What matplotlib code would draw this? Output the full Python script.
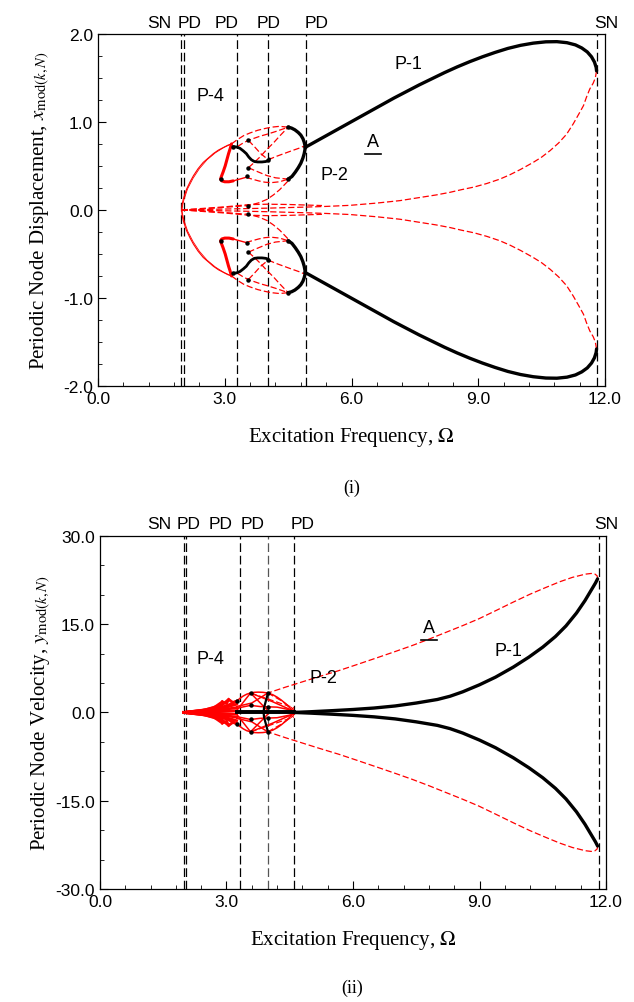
import numpy as np
import matplotlib
matplotlib.use("Agg")
import matplotlib.pyplot as plt

plt.rcParams['font.family'] = ['Liberation Sans', 'DejaVu Sans']
plt.rcParams['mathtext.fontset'] = 'stix'

# ---------------- (i) displacement, upper half (lower half is mirror) -------------
bif_x_i = [1.96, 2.04, 3.28, 4.02, 4.92, 11.82]
bif_lab_i = ["SN", "PD", "PD", "PD", "PD", "SN"]

# stable P-1 (black)
p1_om_i = [4.90, 5.2, 5.5, 5.8, 6.1, 6.4, 6.7, 7.0, 7.3, 7.6, 7.9, 8.2, 8.5, 8.8, 9.1, 9.4,
           9.7, 10.0, 10.3, 10.6, 10.86, 11.1, 11.3, 11.45, 11.58, 11.68, 11.75, 11.79, 11.80]
p1_x_i = [0.71, 0.79, 0.87, 0.95, 1.03, 1.11, 1.19, 1.27, 1.345, 1.42, 1.49, 1.56, 1.625, 1.685,
          1.74, 1.79, 1.835, 1.87, 1.895, 1.91, 1.912, 1.90, 1.875, 1.84, 1.795, 1.74, 1.68,
          1.62, 1.58]
# unstable P-1 (red dashed)
u1_om_i = [11.80, 11.77, 11.72, 11.64, 11.56, 11.49, 11.38, 11.25, 11.09, 10.9, 10.7, 10.5, 10.3,
           10.0, 9.75, 9.51, 9.2, 8.9, 8.6, 8.33, 8.0, 7.6, 7.15, 6.6, 5.96, 5.4, 4.9, 4.0, 3.0, 1.98]
u1_x_i = [1.58, 1.50, 1.44, 1.375, 1.28, 1.185, 1.09, 0.98, 0.86, 0.76, 0.674, 0.60, 0.54,
          0.46, 0.40, 0.35, 0.30, 0.26, 0.23, 0.20, 0.17, 0.14, 0.106, 0.078, 0.052, 0.04, 0.032,
          0.02, 0.01, 0.0]
# P-2 stable arc (black)
p2_om_i = [4.50, 4.58, 4.66, 4.74, 4.80, 4.85, 4.88, 4.90, 4.90, 4.88, 4.85, 4.80, 4.74, 4.67,
           4.59, 4.50]
p2_x_i = [0.94, 0.93, 0.91, 0.88, 0.85, 0.81, 0.77, 0.73, 0.69, 0.64, 0.59, 0.53, 0.48, 0.43,
          0.38, 0.35]
# P-4 stable S (black)
p4_om_i = [3.20, 3.28, 3.36, 3.44, 3.51, 3.57, 3.63, 3.70, 3.78, 3.88, 3.97, 4.03, 4.06]
p4_x_i = [0.72, 0.715, 0.70, 0.67, 0.64, 0.60, 0.57, 0.55, 0.545, 0.545, 0.55, 0.56, 0.58]
# large red solid arc
arc_om_i = [1.98, 1.99, 2.02, 2.06, 2.10, 2.18, 2.26, 2.37, 2.49, 2.61, 2.73, 2.85, 2.97, 3.07, 3.16]
arc_x_i = [0.0, 0.06, 0.125, 0.185, 0.24, 0.32, 0.39, 0.47, 0.54, 0.59, 0.64, 0.68, 0.71, 0.735, 0.75]
arc2_om_i = [1.98, 2.03, 2.12, 2.25, 2.40, 2.58, 2.78, 2.98, 3.16]
arc2_x_i = [0.0, 0.11, 0.24, 0.36, 0.47, 0.57, 0.65, 0.71, 0.75]
# thick red S loop
rs_om_i = [3.16, 3.13, 3.09, 3.05, 3.01, 2.96, 2.92, 2.90, 2.93, 3.00, 3.10, 3.20]
rs_x_i = [0.75, 0.70, 0.64, 0.57, 0.50, 0.43, 0.38, 0.35, 0.33, 0.32, 0.32, 0.33]
rt_om_i = [3.20, 3.35, 3.50]
rt_x_i = [0.33, 0.35, 0.37]
# red dashed branches
d1_om = [3.16, 3.30, 3.45, 3.60, 3.78, 3.95, 4.10, 4.30, 4.50]
d1_x = [0.75, 0.80, 0.845, 0.875, 0.905, 0.925, 0.94, 0.95, 0.94]
d2_om = [3.30, 3.45, 3.56, 3.70, 3.85, 4.00, 4.20, 4.50]
d2_x = [0.72, 0.765, 0.79, 0.815, 0.84, 0.86, 0.89, 0.94]
d3_om = [3.56, 3.70, 3.85, 4.03]
d3_x = [0.79, 0.72, 0.64, 0.57]
d4_om = [4.03, 4.20, 4.40, 4.60, 4.75, 4.90]
d4_x = [0.57, 0.605, 0.64, 0.675, 0.70, 0.73]
d5_om = [3.56, 3.70, 3.85, 4.00, 4.15, 4.30, 4.50]
d5_x = [0.48, 0.54, 0.61, 0.69, 0.76, 0.84, 0.94]
d6_om = [3.50, 3.65, 3.80, 3.95, 4.10, 4.30, 4.50]
d6_x = [0.37, 0.35, 0.33, 0.315, 0.31, 0.32, 0.35]
d7_om = [3.56, 3.70, 3.85, 4.00, 4.20, 4.50]
d7_x = [0.48, 0.45, 0.42, 0.39, 0.365, 0.35]
d8_om = [1.98, 2.5, 3.0, 3.56, 3.80, 4.00, 4.15, 4.30, 4.50]
d8_x = [0.0, 0.012, 0.03, 0.05, 0.08, 0.12, 0.17, 0.23, 0.33]
d9_om = [1.98, 2.5, 3.0, 3.56, 4.0, 4.5, 5.3]
d9_x = [0.0, 0.018, 0.035, 0.06, 0.065, 0.062, 0.05]
dots_om_i = [3.56, 3.56, 3.53, 4.03, 4.50, 4.50, 3.56, 2.90, 3.20]
dots_x_i = [0.80, 0.48, 0.38, 0.57, 0.94, 0.35, 0.05, 0.35, 0.72]

# ---------------- (ii) velocity, upper half -------------------------------------
bif_x_ii = [1.99, 2.04, 3.31, 3.98, 4.60, 11.83]
bif_lab_ii = ["SN", "PD", "PD", "PD", "PD", "SN"]

p1_om_ii = [4.6, 5.0, 5.5, 6.0, 6.5, 7.0, 7.5, 8.0, 8.3, 8.6, 9.0, 9.38, 9.8, 10.17, 10.5,
            10.8, 11.05, 11.3, 11.5, 11.65, 11.75, 11.80]
p1_y_ii = [0.0, 0.12, 0.3, 0.5, 0.75, 1.1, 1.6, 2.2, 2.75, 3.5, 4.7, 6.0, 7.7, 9.4, 11.1,
           12.9, 14.7, 16.9, 19.0, 20.8, 22.0, 22.7]
u1_om_ii = [11.80, 11.79, 11.74, 11.65, 11.51, 11.2, 10.9, 10.56, 10.2, 9.8, 9.4, 8.98, 8.6,
            8.2, 7.8, 7.4, 7.0, 6.61, 6.1, 5.66, 5.2, 4.8, 4.4, 3.98]
u1_y_ii = [22.7, 23.2, 23.5, 23.62, 23.5, 22.95, 22.2, 21.2, 20.1, 18.75, 17.35, 15.9, 14.75,
           13.6, 12.45, 11.36, 10.35, 9.39, 8.15, 7.1, 6.1, 5.2, 4.3, 3.3]
# black horizontal P-2 / P-4 segment and bracket
hb_om_ii = [3.24, 3.6, 4.0, 4.6]
hb_y_ii = [0.0, 0.0, 0.0, 0.0]
br_om_ii = [3.98, 3.95, 3.92, 3.89, 3.88]
br_y_ii = [3.2, 2.4, 1.6, 0.8, 0.0]
# red P-4 spindle (thick)
sp1_om = [1.99, 2.4, 2.7, 2.9]
sp1_y = [0.0, 0.3, 0.8, 1.8]
sp2_om = [1.99, 2.5, 2.9, 3.05]
sp2_y = [0.0, 0.45, 1.3, 2.2]
sp3_om = [1.99, 2.6, 3.0, 3.24]
sp3_y = [0.0, 0.5, 1.1, 1.9]
sp4_om = [1.99, 2.7, 3.24]
sp4_y = [0.0, 0.3, 0.8]
sp5_om = [2.9, 3.0, 3.05, 3.15, 3.24]
sp5_y = [1.8, 1.5, 2.2, 1.7, 1.9]
sp6_om = [1.99, 2.6, 3.0, 3.24]
sp6_y = [0.0, 0.35, 0.9, 1.4]
sp7_om = [1.99, 2.8, 3.24]
sp7_y = [0.0, 0.15, 0.3]
# red mesh (thin solid)
m1_om = [3.24, 3.32, 3.40, 3.48, 3.57, 3.66, 3.75, 3.86, 3.98, 4.10, 4.2, 4.3, 4.4, 4.5, 4.6]
m1_y = [1.9, 2.4, 2.8, 3.1, 3.3, 3.42, 3.45, 3.42, 3.3, 3.0, 2.6, 2.1, 1.5, 0.8, 0.0]
m2_om = [3.24, 3.57, 3.98]
m2_y = [0.3, 3.3, 0.3]
m3_om = [3.57, 4.1, 4.6]
m3_y = [3.3, 1.8, 0.2]
m4_om = [3.24, 3.6, 3.98]
m4_y = [1.0, 1.6, 3.3]
m5_om = [3.3, 3.57, 3.8, 4.2, 4.6]
m5_y = [0.8, 1.2, 1.0, 0.9, 0.3]
# red dashed inside mesh
dm1_om = [3.98, 4.3, 4.6]
dm1_y = [3.3, 2.0, 0.5]
dm2_om = [3.57, 3.9, 4.3, 4.6]
dm2_y = [3.3, 2.5, 1.5, 0.8]
dots_om_ii = [3.57, 3.98, 3.57, 3.24, 3.98]
dots_y_ii = [3.3, 3.3, 1.2, 1.9, 1.0]


def both(ax, om, val, **kw):
    ax.plot(om, val, **kw)
    ax.plot(om, np.negative(val), **kw)


red_dash = dict(color='red', lw=0.9, dashes=(5, 2.2))
red_thin = dict(color='red', lw=0.8)

fig = plt.figure(figsize=(6.34, 10.03), dpi=100)
ax1 = fig.add_axes([0.1546, 0.6142, 0.7997, 0.351])
ax2 = fig.add_axes([0.1577, 0.1127, 0.7982, 0.352])

# ---- panel (i)
for xv in bif_x_i:
    ax1.axvline(xv, color='black', lw=0.9, dashes=(7, 3), zorder=1)
for d_om, d_x in [(u1_om_i, u1_x_i), (d1_om, d1_x), (d2_om, d2_x), (d3_om, d3_x),
                  (d4_om, d4_x), (d5_om, d5_x), (d6_om, d6_x), (d7_om, d7_x),
                  (d8_om, d8_x), (d9_om, d9_x)]:
    both(ax1, d_om, d_x, **red_dash)
both(ax1, arc_om_i, arc_x_i, **red_thin)
both(ax1, arc2_om_i, arc2_x_i, color='red', lw=0.6)
both(ax1, rs_om_i, rs_x_i, color='red', lw=2.2, solid_capstyle='round')
both(ax1, rt_om_i, rt_x_i, color='red', lw=1.0)
both(ax1, p1_om_i, p1_x_i, color='black', lw=2.4, solid_capstyle='round')
both(ax1, p2_om_i, p2_x_i, color='black', lw=2.4, solid_capstyle='round')
both(ax1, p4_om_i, p4_x_i, color='black', lw=2.0, solid_capstyle='round')
both(ax1, dots_om_i, dots_x_i, ls='none', marker='o', ms=2.2, color='black')

ax1.set_xlim(0, 12)
ax1.set_ylim(-2, 2)
ax1.set_xticks([0, 3, 6, 9, 12])
ax1.set_xticklabels(["0.0", "3.0", "6.0", "9.0", "12.0"])
ax1.set_yticks([-2, -1, 0, 1, 2])
ax1.set_yticklabels(["-2.0", "-1.0", "0.0", "1.0", "2.0"])
ax1.set_xticks(np.arange(0, 12.01, 0.6), minor=True)
ax1.set_yticks(np.arange(-2, 2.01, 0.25), minor=True)
ax1.set_xlabel(r"Excitation Frequency, $\Omega$", family='Liberation Serif', fontsize=15, labelpad=14)
ax1.set_ylabel(r"Periodic Node Displacement, $x_{\mathrm{mod}(k,N)}$", family='Liberation Serif',
               fontsize=15, labelpad=8)
ax1.text(2.65, 1.3, "P-4", fontsize=13, ha='center', va='center')
ax1.text(7.34, 1.66, "P-1", fontsize=13, ha='center', va='center')
ax1.text(5.59, 0.40, "P-2", fontsize=13, ha='center', va='center')
ax1.text(6.51, 0.78, "A", fontsize=13, ha='center', va='center')
ax1.plot([6.33, 6.69], [0.63, 0.63], color='black', lw=1.2)
lab_pos_i = [1.46, 2.18, 3.04, 4.04, 5.18, 12.04]
for xv, lab in zip(lab_pos_i, bif_lab_i):
    ax1.text(xv, 2.05, lab, fontsize=12.5, ha='center', va='bottom')
fig.text(0.555, 1 - 488 / 1003, "(i)", family='Liberation Serif', fontsize=13, ha='center', va='center')

# ---- panel (ii)
for i, xv in enumerate(bif_x_ii):
    ax2.axvline(xv, color='#555555' if i == 3 else 'black', lw=0.9, dashes=(7, 3), zorder=1)
for d_om, d_y in [(u1_om_ii, u1_y_ii), (dm1_om, dm1_y), (dm2_om, dm2_y)]:
    both(ax2, d_om, d_y, **red_dash)
for s_om, s_y in [(sp1_om, sp1_y), (sp2_om, sp2_y), (sp3_om, sp3_y), (sp4_om, sp4_y),
                  (sp5_om, sp5_y), (sp6_om, sp6_y), (sp7_om, sp7_y)]:
    both(ax2, s_om, s_y, color='red', lw=2.0)
for m_om, m_y in [(m1_om, m1_y), (m2_om, m2_y), (m3_om, m3_y), (m4_om, m4_y), (m5_om, m5_y)]:
    both(ax2, m_om, m_y, color='red', lw=1.1)
both(ax2, p1_om_ii, p1_y_ii, color='black', lw=2.4, solid_capstyle='round')
both(ax2, hb_om_ii, hb_y_ii, color='black', lw=2.6)
both(ax2, br_om_ii, br_y_ii, color='black', lw=1.6)
both(ax2, dots_om_ii, dots_y_ii, ls='none', marker='o', ms=2.2, color='black')

ax2.set_xlim(0, 12)
ax2.set_ylim(-30, 30)
ax2.set_xticks([0, 3, 6, 9, 12])
ax2.set_xticklabels(["0.0", "3.0", "6.0", "9.0", "12.0"])
ax2.set_yticks([-30, -15, 0, 15, 30])
ax2.set_yticklabels(["-30.0", "-15.0", "0.0", "15.0", "30.0"])
ax2.set_xticks(np.arange(0, 12.01, 0.6), minor=True)
ax2.set_yticks(np.arange(-30, 30.01, 5), minor=True)
ax2.set_xlabel(r"Excitation Frequency, $\Omega$", family='Liberation Serif', fontsize=15, labelpad=14)
ax2.set_ylabel(r"Periodic Node Velocity, $y_{\mathrm{mod}(k,N)}$", family='Liberation Serif',
               fontsize=15, labelpad=2)
ax2.text(2.63, 9.1, "P-4", fontsize=13, ha='center', va='center')
ax2.text(5.31, 6.0, "P-2", fontsize=13, ha='center', va='center')
ax2.text(9.69, 10.5, "P-1", fontsize=13, ha='center', va='center')
ax2.text(7.8, 14.5, "A", fontsize=13, ha='center', va='center')
ax2.plot([7.62, 7.98], [12.3, 12.3], color='black', lw=1.2)
lab_pos_ii = [1.4, 2.1, 2.86, 3.62, 4.8, 12.0]
for xv, lab in zip(lab_pos_ii, bif_lab_ii):
    ax2.text(xv, 30.8, lab, fontsize=12.5, ha='center', va='bottom')
fig.text(0.555, 1 - 988 / 1003, "(ii)", family='Liberation Serif', fontsize=13, ha='center', va='center')

for ax in (ax1, ax2):
    ax.tick_params(which='both', direction='in', top=False, right=False, labelsize=12.5)
    ax.tick_params(which='major', length=6)
    ax.tick_params(which='minor', length=3)
    for sp in ax.spines.values():
        sp.set_linewidth(0.9)

fig.savefig("out.png", dpi=100)
